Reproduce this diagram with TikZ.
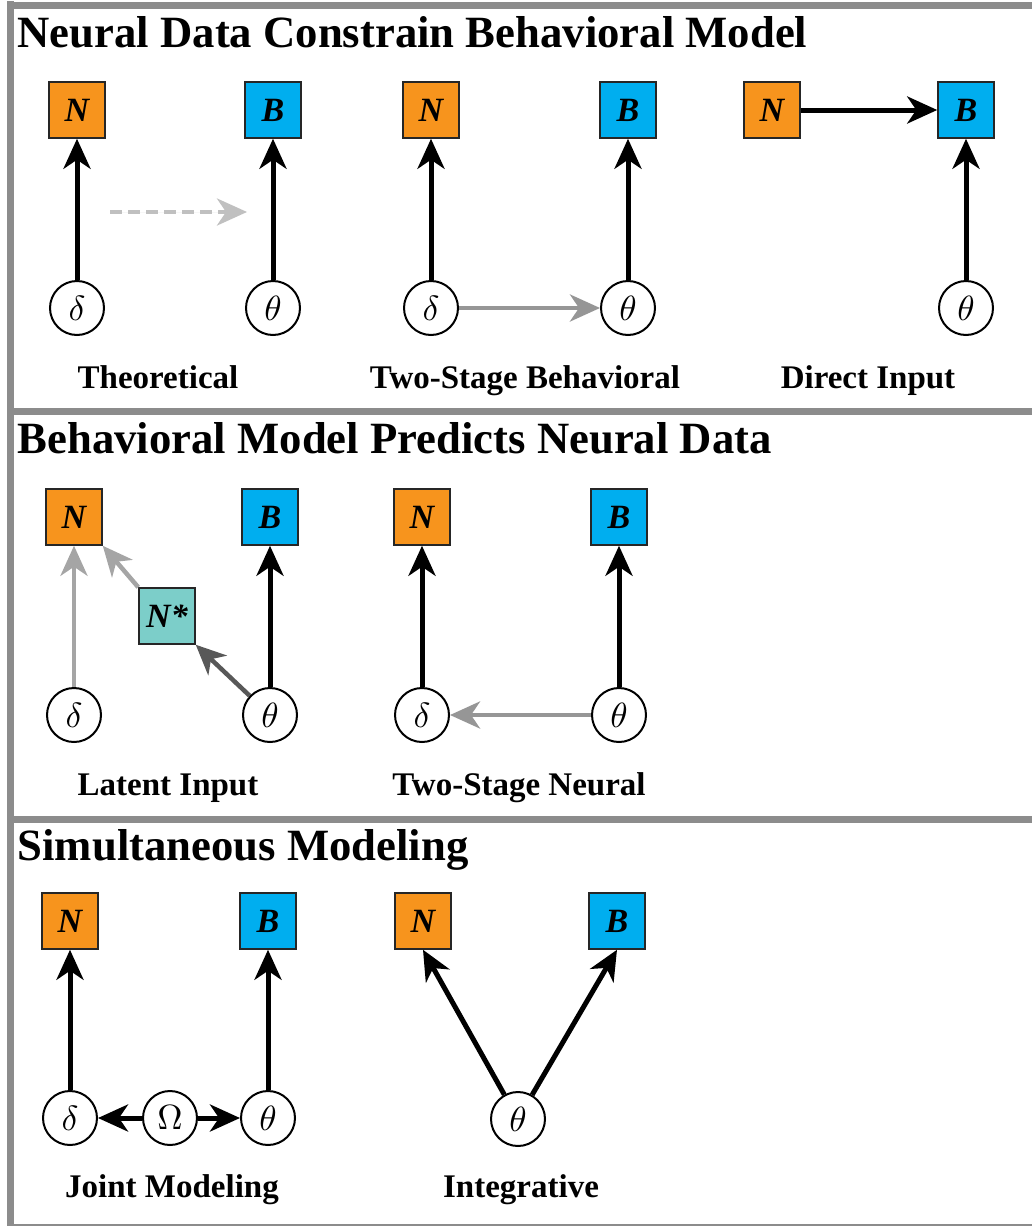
\documentclass[tikz,border=0pt]{standalone}
\usepackage{graphicx}
\usepackage[no-math]{fontspec}
\setmainfont{Liberation Serif}
\usetikzlibrary{arrows.meta}

\definecolor{nOrange}{RGB}{247,148,29}
\definecolor{bBlue}{RGB}{0,174,239}
\definecolor{nTeal}{RGB}{124,206,201}
\definecolor{frameGray}{RGB}{140,140,140}
\definecolor{midGray}{RGB}{150,150,150}
\definecolor{softGray}{RGB}{165,165,165}
\definecolor{paleGray}{RGB}{192,192,192}
\definecolor{darkGray}{RGB}{88,88,88}

\newcommand{\greek}[1]{\scalebox{3.5}{$#1$}}

\begin{document}
\begin{tikzpicture}[x=1pt, y=-1pt,
	obs/.style={draw=black!85, line width=1.5pt, minimum size=56pt, inner sep=0pt, font=\fontsize{34}{34}\selectfont\bfseries\itshape},
	par/.style={draw, circle, line width=2pt, minimum size=54pt, inner sep=0pt, fill=white},
	link/.style={-{Stealth[length=30pt, width=27pt, inset=9pt]}, line width=5pt},
	glink/.style={link, line width=4.5pt, draw=#1, fill=#1},
	heading/.style={anchor=base west, inner sep=0pt, font=\fontsize{44.7}{50}\selectfont\bfseries},
	caption/.style={anchor=base, inner sep=0pt, font=\fontsize{33}{36}\selectfont\bfseries},
	frame/.style={draw=frameGray, line width=7pt}]
	\useasboundingbox (0,0) rectangle (1031,1226);
	
	% frame and panel rules
	\draw[frame] (10.5,5) -- (1040,5);
	\draw[frame] (10.5,1) -- (10.5,1240);
	\draw[frame] (10.5,411.5) -- (1040,411.5);
	\draw[frame] (10.5,819.5) -- (1040,819.5);
	\draw[frame] (10.5,1227.5) -- (1040,1227.5);
	
	% Neural Data Constrain Behavioral Model
	\node (head1) [heading] at (17.5,47) {Neural Data Constrain Behavioral Model};
	
	\node (n1) [obs, fill=nOrange] at (77,110) {N};
	\node (b1) [obs, fill=bBlue] at (273,110) {B};
	\node (d1) [par] at (77,308) {\greek{\delta}};
	\node (t1) [par] at (273,308) {\greek{\theta}};
	\coordinate (dashstart) at (110,212);
	\coordinate (dashend) at (247,212);
	\draw[link] (d1) -- (n1);
	\draw[link] (t1) -- (b1);
	\draw[glink=paleGray, line width=4pt, dash pattern=on 12pt off 6pt] (dashstart) -- (dashend);
	\node (cap1) [caption] at (158,388) {Theoretical};
	
	\node (n2) [obs, fill=nOrange] at (431,110) {N};
	\node (b2) [obs, fill=bBlue] at (628,110) {B};
	\node (d2) [par] at (431,308) {\greek{\delta}};
	\node (t2) [par] at (628,308) {\greek{\theta}};
	\draw[link] (d2) -- (n2);
	\draw[link] (t2) -- (b2);
	\draw[glink=midGray] (d2) -- (t2);
	\node (cap2) [caption] at (525,388) {Two-Stage Behavioral};
	
	\node (n3) [obs, fill=nOrange] at (772,110) {N};
	\node (b3) [obs, fill=bBlue] at (966,110) {B};
	\node (t3) [par] at (966,308) {\greek{\theta}};
	\draw[link] (n3) -- (b3);
	\draw[link] (t3) -- (b3);
	\node (cap3) [caption] at (868,388) {Direct Input};
	
	% Behavioral Model Predicts Neural Data
	\node (head2) [heading] at (17.5,453) {Behavioral Model Predicts Neural Data};
	
	\node (n4) [obs, fill=nOrange] at (74,517) {N};
	\node (b4) [obs, fill=bBlue] at (270,517) {B};
	\node (ns4) [obs, fill=nTeal] at (167,616) {N*};
	\node (d4) [par] at (74,715) {\greek{\delta}};
	\node (t4) [par] at (270,715) {\greek{\theta}};
	\draw[glink=softGray] (d4) -- (n4);
	\draw[glink=softGray] (ns4.north west) -- (n4.south east);
	\draw[glink=darkGray] (t4) -- (ns4.south east);
	\draw[link] (t4) -- (b4);
	\node (cap4) [caption] at (168,795) {Latent Input};
	
	\node (n5) [obs, fill=nOrange] at (422,517) {N};
	\node (b5) [obs, fill=bBlue] at (619,517) {B};
	\node (d5) [par] at (422,715) {\greek{\delta}};
	\node (t5) [par] at (619,715) {\greek{\theta}};
	\draw[link] (d5) -- (n5);
	\draw[link] (t5) -- (b5);
	\draw[glink=midGray] (t5) -- (d5);
	\node (cap5) [caption] at (519,795) {Two-Stage Neural};
	
	% Simultaneous Modeling
	\node (head3) [heading] at (17.5,860) {Simultaneous Modeling};
	
	\node (n6) [obs, fill=nOrange] at (70,921) {N};
	\node (b6) [obs, fill=bBlue] at (268,921) {B};
	\node (d6) [par] at (70,1118) {\greek{\delta}};
	\node (o6) [par] at (170,1118) {\greek{\Omega}};
	\node (t6) [par] at (268,1118) {\greek{\theta}};
	\draw[link] (d6) -- (n6);
	\draw[link] (t6) -- (b6);
	\draw[link] (o6) -- (d6);
	\draw[link] (o6) -- (t6);
	\node (cap6) [caption] at (172,1197) {Joint Modeling};
	
	\node (n7) [obs, fill=nOrange] at (423,921) {N};
	\node (b7) [obs, fill=bBlue] at (617,921) {B};
	\node (t7) [par] at (518,1119) {\greek{\theta}};
	\draw[link] (t7) -- (n7.south);
	\draw[link] (t7) -- (b7.south);
	\node (cap7) [caption] at (521,1197) {Integrative};
\end{tikzpicture}
\end{document}
